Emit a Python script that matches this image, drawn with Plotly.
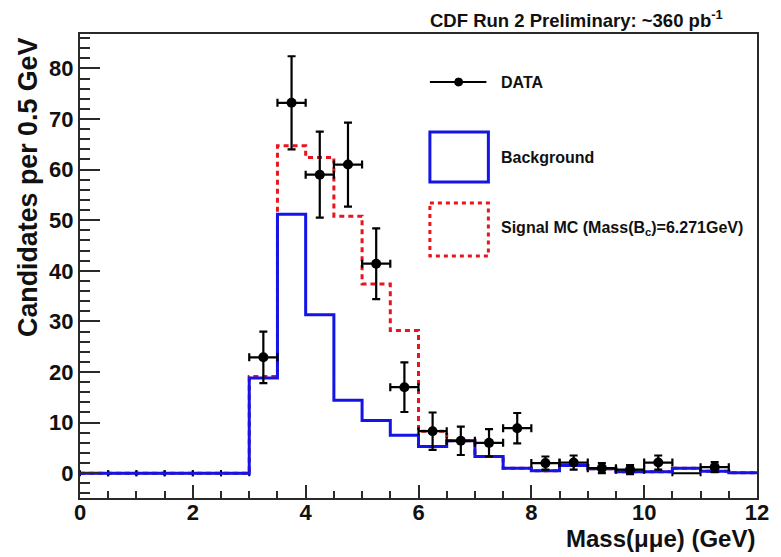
import plotly.graph_objects as go

# ---------------- data ----------------
bin_edges = [0.0, 0.5, 1.0, 1.5, 2.0, 2.5, 3.0, 3.5, 4.0, 4.5, 5.0, 5.5, 6.0,
             6.5, 7.0, 7.5, 8.0, 8.5, 9.0, 9.5, 10.0, 10.5, 11.0, 11.5, 12.0]
background = [0, 0, 0, 0, 0, 0, 18.8, 51.2, 31.3, 14.4, 10.4, 7.5, 5.3,
              6.4, 3.3, 1.0, 0.5, 1.5, 0.9, 0.3, 0.3, 1.0, 0.4, 0.1]
signal_mc_total = [0, 0, 0, 0, 0, 0, 19.1, 64.7, 62.4, 50.8, 37.4, 28.2, 8.3,
                   6.4, 3.3, 1.0, 0.5, 1.5, 0.9, 0.3, 0.3, 1.0, 0.4, 0.1]
data_x = [3.25, 3.75, 4.25, 4.75, 5.25, 5.75, 6.25, 6.75, 7.25, 7.75,
          8.25, 8.75, 9.25, 9.75, 10.25, 11.25]
data_y = [22.9, 73.2, 59.0, 61.0, 41.4, 17.0, 8.3, 6.4, 6.0, 8.9,
          2.0, 2.1, 1.0, 0.7, 2.1, 1.2]
data_err = [5.1, 9.2, 8.5, 8.3, 7.0, 4.9, 3.7, 2.8, 2.7, 3.0,
            1.3, 1.4, 1.0, 0.9, 1.4, 1.0]
zero_x = [0.25, 0.75, 1.25, 1.75, 2.25, 2.75, 10.75]
zero_y = [0, 0, 0, 0, 0, 0, 0]
bin_half_width = 0.25

x_ticks = [0, 2, 4, 6, 8, 10, 12]
y_ticks = [0, 10, 20, 30, 40, 50, 60, 70, 80]

title_text = "CDF Run 2 Preliminary: ~360 pb<sup>-1</sup>"
x_title = "Mass(\u03bc\u03bce) (GeV)"
y_title = "Candidates per 0.5 GeV"
legend_labels = ["DATA", "Background", "Signal MC (Mass(B<sub>c</sub>)=6.271GeV)"]

# ---------------- layout geometry ----------------
W, H = 781, 557
L, R, T, B = 80, 763, 34, 498
PW, PH = R - L, B - T


def px(x):
    return (x - L) / PW


def py(y):
    return (B - y) / PH


FONT = "Liberation Sans, Arial, Helvetica, sans-serif"
BLUE = "#1414e6"
RED = "#e8141e"
AXC = "#2a2a2a"

fig = go.Figure()

# signal MC (dotted red), drawn below the background
fig.add_trace(go.Scatter(
    x=bin_edges, y=signal_mc_total + [signal_mc_total[-1]],
    mode="lines", line=dict(shape="hv", color=RED, width=3, dash="5px,4px"),
    showlegend=False, hoverinfo="skip"))

# empty-bin data (horizontal error bars only)
fig.add_trace(go.Scatter(
    x=zero_x, y=zero_y, mode="markers",
    marker=dict(size=1, color="rgba(0,0,0,0)"),
    error_x=dict(type="constant", value=bin_half_width, color="black",
                 thickness=2, width=3),
    showlegend=False, hoverinfo="skip"))

# background (solid blue)
fig.add_trace(go.Scatter(
    x=bin_edges, y=background + [background[-1]],
    mode="lines", line=dict(shape="hv", color=BLUE, width=3),
    showlegend=False, hoverinfo="skip"))

# data points
fig.add_trace(go.Scatter(
    x=data_x, y=data_y, mode="markers",
    marker=dict(size=10, color="black"),
    error_y=dict(type="data", array=data_err, color="black", thickness=2.2, width=4),
    error_x=dict(type="constant", value=bin_half_width, color="black",
                 thickness=2.2, width=4),
    showlegend=False))

# ---------------- manual legend ----------------
shapes = []
annotations = []
# DATA entry
shapes.append(dict(type="line", xref="paper", yref="paper",
                   x0=px(433), x1=px(490), y0=py(82), y1=py(82),
                   line=dict(color="black", width=2)))
shapes.append(dict(type="circle", xref="paper", yref="paper",
                   x0=px(458), x1=px(466), y0=py(78), y1=py(86),
                   fillcolor="black", line=dict(color="black", width=1)))
# Background entry
shapes.append(dict(type="rect", xref="paper", yref="paper",
                   x0=px(433), x1=px(492), y0=py(132), y1=py(182),
                   line=dict(color=BLUE, width=3)))
# Signal entry
shapes.append(dict(type="rect", xref="paper", yref="paper",
                   x0=px(433), x1=px(492), y0=py(203), y1=py(256),
                   line=dict(color=RED, width=3, dash="4px,4px")))

for lab, yc in zip(legend_labels, [82, 157, 228]):
    annotations.append(dict(text=lab, xref="paper", yref="paper",
                            x=px(503), y=py(yc), xanchor="left", yanchor="middle",
                            showarrow=False,
                            font=dict(family=FONT, size=16, color="#111", weight="bold")))

# title
annotations.append(dict(text=title_text, xref="paper", yref="paper",
                        x=px(731), y=py(19), xanchor="right", yanchor="middle",
                        showarrow=False,
                        font=dict(family=FONT, size=18.5, color="#111", weight="bold")))
# x title
annotations.append(dict(text=x_title, xref="paper", yref="paper",
                        x=px(763), y=py(538), xanchor="right", yanchor="middle",
                        showarrow=False,
                        font=dict(family=FONT, size=24, color="#111", weight="bold")))
# y title
annotations.append(dict(text=y_title, xref="paper", yref="paper",
                        x=px(27), y=py(36), xanchor="center", yanchor="top",
                        textangle=-90, showarrow=False,
                        font=dict(family=FONT, size=26.8, color="#111", weight="bold")))

fig.update_layout(
    width=W, height=H,
    margin=dict(l=L, r=W - R, t=T, b=H - B, pad=0),
    paper_bgcolor="white", plot_bgcolor="white",
    showlegend=False,
    shapes=shapes, annotations=annotations,
    font=dict(family=FONT, color="#111"),
)

fig.update_xaxes(
    range=[0, 12], tickvals=x_ticks, ticktext=[str(v) for v in x_ticks],
    ticks="inside", ticklen=13, tickwidth=1.5, tickcolor=AXC,
    minor=dict(ticks="inside", ticklen=7, tickwidth=1.5, tickcolor=AXC, dtick=0.5, tick0=0, showgrid=False),
    showline=True, linecolor=AXC, linewidth=2, mirror=True,
    showgrid=False, zeroline=False, ticklabelstandoff=-6,
    tickfont=dict(family=FONT, size=22, color="#111", weight="bold"),
)
fig.update_yaxes(
    range=[-4.9, 86.8], tickvals=y_ticks, ticktext=[str(v) for v in y_ticks],
    ticks="inside", ticklen=20, tickwidth=1.5, tickcolor=AXC,
    minor=dict(ticks="inside", ticklen=10, tickwidth=1.5, tickcolor=AXC, dtick=2, tick0=0, showgrid=False),
    showline=True, linecolor=AXC, linewidth=2, mirror=True,
    showgrid=False, zeroline=False,
    tickfont=dict(family=FONT, size=22, color="#111", weight="bold"),
)

fig.write_html("out.html")
